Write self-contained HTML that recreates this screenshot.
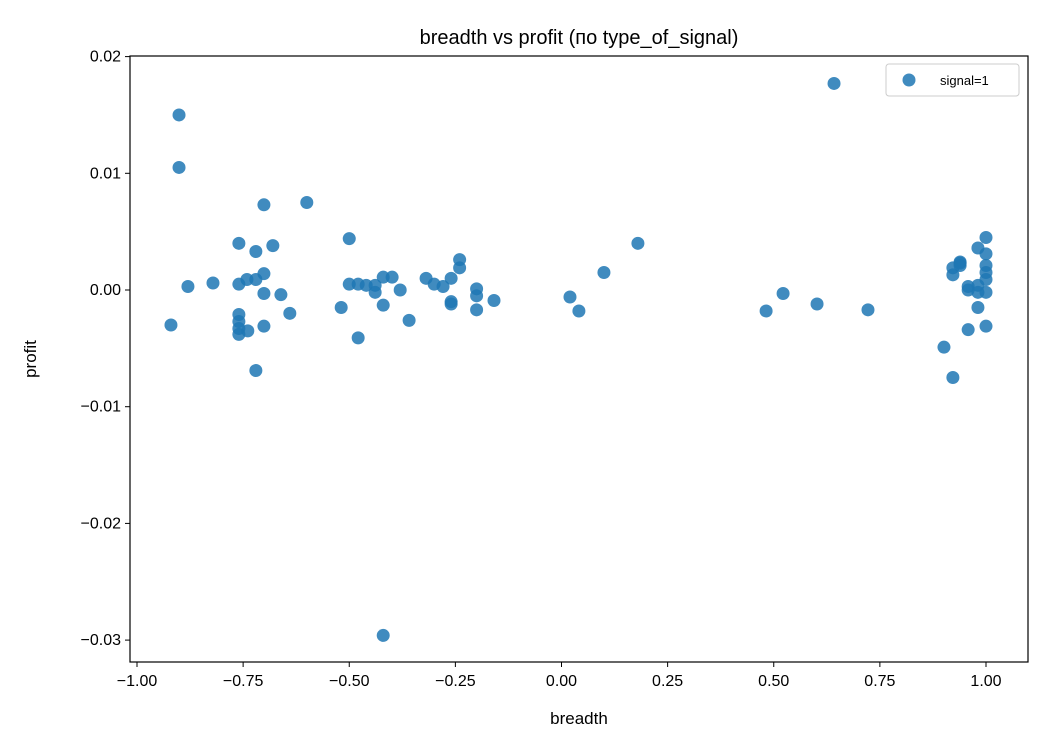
<!DOCTYPE html>
<html><head><meta charset="utf-8"><style>body{margin:0;background:#fff}svg{font-family:"Liberation Sans","DejaVu Sans",sans-serif}</style></head>
<body>
<svg id="chart" width="1050" height="750">
<rect x="0" y="0" width="1050" height="750" fill="#fff"/>
<text x="579" y="44" font-size="20" text-anchor="middle">breadth vs profit (по type_of_signal)</text>
<g id="marks"></g>
<g id="axes"></g>
<text x="579" y="724" font-size="17" text-anchor="middle">breadth</text>
<text x="36" y="359" font-size="17" text-anchor="middle" transform="rotate(-90 36 359)">profit</text>
<g>
<rect x="886" y="64" width="133" height="32" fill="#fff" stroke="#ccc" rx="3"/>
<circle cx="909" cy="80" r="6.5" fill="#1f77b4" fill-opacity="0.85"/>
<text x="940" y="85" font-size="13">signal=1</text>
</g>
</svg>
<script>
const xs=[-0.901,-0.901,-0.880,-0.920,-0.821,-0.760,-0.760,-0.760,-0.760,-0.760,-0.760,-0.741,-0.739,-0.720,-0.720,-0.720,-0.701,-0.701,-0.701,-0.701,-0.680,-0.661,-0.640,-0.600,-0.519,-0.500,-0.500,-0.479,-0.460,-0.439,-0.439,-0.420,-0.420,-0.399,-0.380,-0.359,-0.319,-0.300,-0.279,-0.260,-0.240,-0.240,-0.200,-0.200,-0.200,-0.159,-0.479,-0.420,-0.260,-0.260,0.020,0.041,0.100,0.180,0.482,0.522,0.602,0.642,0.722,0.901,0.922,0.922,0.922,0.939,0.939,0.939,0.958,0.958,0.958,0.981,0.981,0.981,0.981,1.0,1.0,1.0,1.0,1.0,1.0,1.0];
const ys=[0.0150,0.0105,0.0003,-0.0030,0.0006,0.0040,0.0005,-0.0021,-0.0027,-0.0033,-0.0038,0.0009,-0.0035,0.0009,0.0033,-0.0069,0.0073,0.0014,-0.0003,-0.0031,0.0038,-0.0004,-0.0020,0.0075,-0.0015,0.0044,0.0005,0.0005,0.0004,0.0004,-0.0002,0.0011,-0.0013,0.0011,0.0000,-0.0026,0.0010,0.0005,0.0003,0.0010,0.0026,0.0019,0.0001,-0.0005,-0.0017,-0.0009,-0.0041,-0.0296,-0.0010,-0.0012,-0.0006,-0.0018,0.0015,0.0040,-0.0018,-0.0003,-0.0012,0.0177,-0.0017,-0.0049,0.0019,0.0013,-0.0075,0.0024,0.0021,0.0023,0.0003,0.0000,-0.0034,0.0004,-0.0002,-0.0015,0.0036,0.0045,0.0031,0.0021,0.0015,0.0009,-0.0002,-0.0031];
const xTicks=[-1,-0.75,-0.5,-0.25,0,0.25,0.5,0.75,1];
const xTickLabels=["−1.00","−0.75","−0.50","−0.25","0.00","0.25","0.50","0.75","1.00"];
const yTicks=[0.02,0.01,0,-0.01,-0.02,-0.03];
const yTickLabels=["0.02","0.01","0.00","−0.01","−0.02","−0.03"];
const L=130,R=1028,T=56,B=662;
const sx=v=>561.5+v*424.5;
const sy=v=>290-v*11670;
const NS="http://www.w3.org/2000/svg";
const marks=document.getElementById('marks'),axes=document.getElementById('axes');
function mk(tag,at,parent){const e=document.createElementNS(NS,tag);for(const k in at)e.setAttribute(k,at[k]);parent.appendChild(e);return e;}
for(let i=0;i<xs.length;i++){
 const c=mk('circle',{cx:sx(xs[i]),cy:sy(ys[i]),r:6.5,fill:'#1f77b4','fill-opacity':0.85},marks);
 
 
}
const f=mk('rect',{x:L,y:T,width:R-L,height:B-T,fill:'none',stroke:'#000','stroke-width':1.2},axes);


xTicks.forEach((v,i)=>{
 mk('line',{x1:sx(v),x2:sx(v),y1:B,y2:B+5,stroke:'#000'},axes);
 const t=mk('text',{x:sx(v),y:B+24,'font-size':16,'text-anchor':'middle'},axes);t.textContent=xTickLabels[i];
 
 
});
yTicks.forEach((v,i)=>{
 mk('line',{x1:L-5,x2:L,y1:sy(v),y2:sy(v),stroke:'#000'},axes);
 const t=mk('text',{x:L-9,y:sy(v)+5,'font-size':16,'text-anchor':'end'},axes);t.textContent=yTickLabels[i];
 
 
});
</script>
</body></html>
